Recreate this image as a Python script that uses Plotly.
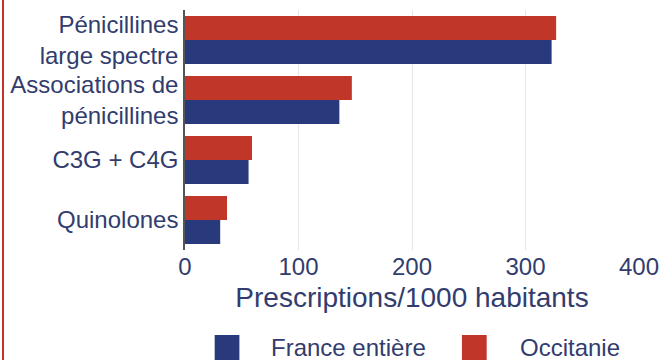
import plotly.graph_objects as go

# Antibiotic classes (top to bottom)
categories = ["Pénicillines<br>large spectre", "Associations de<br>pénicillines", "C3G + C4G", "Quinolones"]
# Prescriptions per 1000 inhabitants
occitanie = [327, 147, 59, 37]
france = [323, 136, 56, 31]
series_names = ["France entière", "Occitanie"]
x_ticks = [0, 100, 200, 300, 400]

RED = "#c0372a"
BLUE = "#283a7c"
TEXT = "#323c6e"
FONT = "Liberation Sans, Arial, sans-serif"

fig = go.Figure()
fig.add_trace(go.Bar(y=categories, x=occitanie, orientation="h", name=series_names[1],
                     marker=dict(color=RED, line=dict(width=0))))
fig.add_trace(go.Bar(y=categories, x=france, orientation="h", name=series_names[0],
                     marker=dict(color=BLUE, line=dict(width=0))))

# Plot area in pixels: left 185, right 644, top 10, bottom 250
L, R, T, B = 185, 644, 10, 250
W, H = 669, 360
pw, ph = R - L, B - T


def px(xp):
    return (xp - L) / pw


def py(yp):
    return (B - yp) / ph


# Hand-drawn legend with large square swatches
shapes = []
annotations = []
legend_items = [(series_names[0], BLUE, 215, 270), (series_names[1], RED, 465, 522)]
for name, color, sx, tx in legend_items:
    shapes.append(dict(type="rect", xref="paper", yref="paper",
                       x0=px(sx), x1=px(sx + 25), y0=py(360), y1=py(335),
                       fillcolor=color, line=dict(width=0)))
    annotations.append(dict(text=name, xref="paper", yref="paper", x=px(tx), y=py(347),
                            xanchor="left", yanchor="middle", showarrow=False,
                            font=dict(size=24, color=TEXT, family=FONT)))

# Red border line at the left edge
shapes.append(dict(type="line", xref="paper", yref="paper", x0=px(1), x1=px(1),
                   y0=py(0), y1=py(360), line=dict(color="#c8322a", width=2)))

fig.update_layout(
    width=W, height=H,
    margin=dict(l=L, r=W - R, t=T, b=H - B, pad=0),
    paper_bgcolor="white", plot_bgcolor="white",
    barmode="group", bargap=0.2, bargroupgap=0,
    showlegend=False,
    font=dict(family=FONT, color=TEXT, size=24),
    shapes=shapes, annotations=annotations,
    xaxis=dict(range=[0, 400], tickvals=x_ticks, showgrid=True, gridcolor="#e6e6ea",
               gridwidth=1, zeroline=False, showline=False, ticks="",
               tickfont=dict(size=24, color=TEXT),
               title=dict(text="Prescriptions/1000 habitants", font=dict(size=28, color=TEXT),
                          standoff=8)),
    yaxis=dict(autorange="reversed", showline=True, linecolor="#555555", linewidth=1.5,
               ticks="", showgrid=False, tickfont=dict(size=24, color=TEXT)),
)

fig.write_html("out.html")
